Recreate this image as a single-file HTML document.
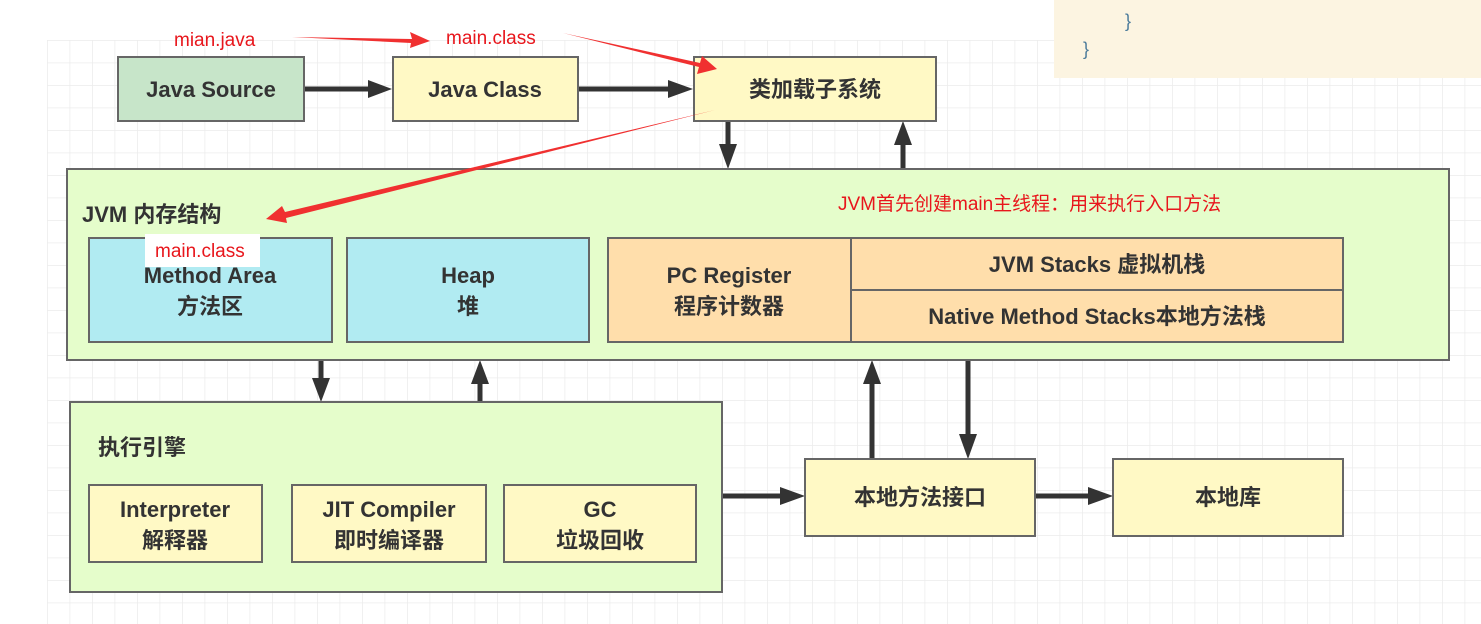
<!DOCTYPE html>
<html><head><meta charset="utf-8"><style>
html,body{margin:0;padding:0;background:#fff;width:1481px;height:624px;overflow:hidden}
text{font-family:"Liberation Sans","Noto Sans CJK SC",sans-serif}
.b{font-weight:bold;font-size:22px;fill:#333}
.r{font-size:19px;fill:#e8161c}
</style></head><body>
<svg width="1481" height="624" viewBox="0 0 1481 624" xmlns="http://www.w3.org/2000/svg">
<defs>
<pattern id="g" x="47" y="40" width="22.5" height="22.5" patternUnits="userSpaceOnUse">
<path d="M0 0H22.5M0 0V22.5" stroke="#ececec" stroke-width="1.5" fill="none"/>
</pattern>
<marker id="a" markerWidth="8" markerHeight="8" refX="7" refY="4" orient="auto" markerUnits="userSpaceOnUse" viewBox="0 0 8 8"><path d="M0 0L8 4L0 8z" fill="#333"/></marker>
</defs>
<rect x="47" y="40" width="1434" height="584" fill="url(#g)"/>
<rect x="1054" y="0" width="427" height="78" fill="#fcf4e1"/>
<text x="1125" y="27" font-size="18" fill="#4a7a9a">}</text>
<text x="1083" y="55" font-size="18" fill="#4a7a9a">}</text>
<g stroke="#333" stroke-width="5" fill="none">
<line x1="304" y1="89" x2="372" y2="89"/><path d="M368 80L392 89L368 98z" fill="#333" stroke="none"/>
<line x1="578" y1="89" x2="672" y2="89"/><path d="M668 80L693 89L668 98z" fill="#333" stroke="none"/>
<line x1="728" y1="121" x2="728" y2="148"/><path d="M719 144L728 169L737 144z" fill="#333" stroke="none"/>
<line x1="903" y1="169" x2="903" y2="141"/><path d="M894 145L903 121L912 145z" fill="#333" stroke="none"/>
<line x1="321" y1="360" x2="321" y2="382"/><path d="M312 378L321 402L330 378z" fill="#333" stroke="none"/>
<line x1="480" y1="402" x2="480" y2="380"/><path d="M471 384L480 360L489 384z" fill="#333" stroke="none"/>
<line x1="872" y1="459" x2="872" y2="380"/><path d="M863 384L872 360L881 384z" fill="#333" stroke="none"/>
<line x1="968" y1="360" x2="968" y2="438"/><path d="M959 434L968 459L977 434z" fill="#333" stroke="none"/>
<line x1="722" y1="496" x2="784" y2="496"/><path d="M780 487L805 496L780 505z" fill="#333" stroke="none"/>
<line x1="1035" y1="496" x2="1092" y2="496"/><path d="M1088 487L1113 496L1088 505z" fill="#333" stroke="none"/>
</g>
<g stroke="#666" stroke-width="2">
<rect x="118" y="57" width="186" height="64" fill="#c7e5c9"/>
<rect x="393" y="57" width="185" height="64" fill="#fff9c5"/>
<rect x="694" y="57" width="242" height="64" fill="#fff9c5"/>
<rect x="67" y="169" width="1382" height="191" fill="#e5fdcb"/>
<rect x="89" y="238" width="243" height="104" fill="#b1ebf2"/>
<rect x="347" y="238" width="242" height="104" fill="#b1ebf2"/>
<rect x="608" y="238" width="243" height="104" fill="#ffdeab"/>
<rect x="851" y="238" width="492" height="52" fill="#ffdeab"/>
<rect x="851" y="290" width="492" height="52" fill="#ffdeab"/>
<rect x="70" y="402" width="652" height="190" fill="#e5fdcb"/>
<rect x="89" y="485" width="173" height="77" fill="#fff9c5"/>
<rect x="292" y="485" width="194" height="77" fill="#fff9c5"/>
<rect x="504" y="485" width="192" height="77" fill="#fff9c5"/>
<rect x="805" y="459" width="230" height="77" fill="#fff9c5"/>
<rect x="1113" y="459" width="230" height="77" fill="#fff9c5"/>
</g>
<g class="b" text-anchor="middle">
<text x="211" y="97" class="b">Java Source</text>
<text x="485" y="97" class="b">Java Class</text>
<text x="815" y="97" class="b">类加载子系统</text>
<text x="210" y="283" class="b">Method Area</text>
<text x="210" y="314" class="b">方法区</text>
<text x="468" y="283" class="b">Heap</text>
<text x="468" y="314" class="b">堆</text>
<text x="729" y="283" class="b">PC Register</text>
<text x="729" y="314" class="b">程序计数器</text>
<text x="1097" y="272" class="b">JVM Stacks 虚拟机栈</text>
<text x="1097" y="324" class="b">Native Method Stacks本地方法栈</text>
<text x="175" y="517" class="b">Interpreter</text>
<text x="175" y="548" class="b">解释器</text>
<text x="389" y="517" class="b">JIT Compiler</text>
<text x="389" y="548" class="b">即时编译器</text>
<text x="600" y="517" class="b">GC</text>
<text x="600" y="548" class="b">垃圾回收</text>
<text x="920" y="505" class="b">本地方法接口</text>
<text x="1228" y="505" class="b">本地库</text>
</g>
<text x="82" y="222" class="b">JVM 内存结构</text>
<text x="98" y="455" class="b">执行引擎</text>
<rect x="145" y="234" width="115" height="33" fill="#fff"/>
<text x="155" y="257" class="r">main.class</text>
<text x="174" y="46" class="r">mian.java</text>
<text x="446" y="44" class="r">main.class</text>
<text x="838" y="210" class="r">JVM首先创建main主线程：用来执行入口方法</text>
<g fill="#f03030">
<path d="M292 37L412 39L410 32L430 41L410 48L411 43z"/>
<path d="M563 33L700 63L702 56L717 69L697 74L699 67z"/>
<path d="M715 110L285 212L282 206L266 219L287 223L286 218z"/>
</g>
</svg>
</body></html>
